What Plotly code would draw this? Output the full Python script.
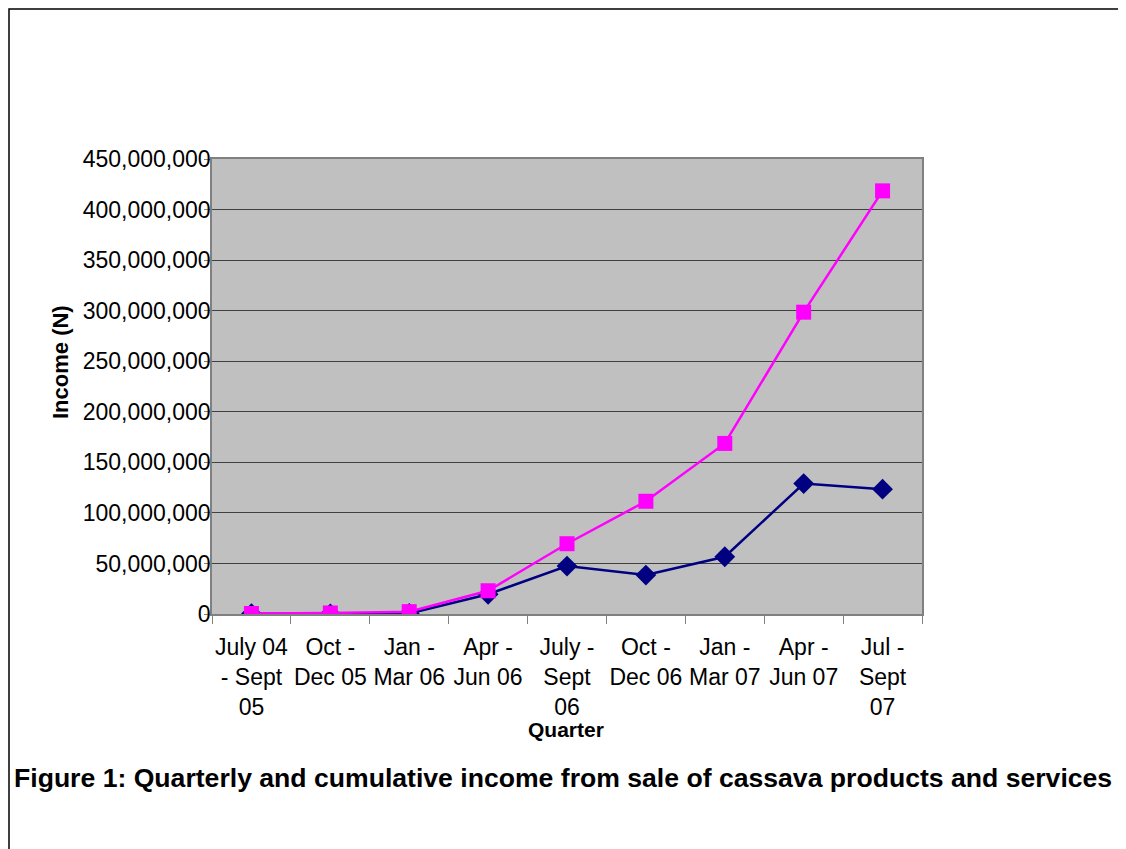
import plotly.graph_objects as go

quarters = ["July 04<br>- Sept<br>05", "Oct -<br>Dec 05", "Jan -<br>Mar 06", "Apr -<br>Jun 06",
            "July -<br>Sept<br>06", "Oct -<br>Dec 06", "Jan -<br>Mar 07", "Apr -<br>Jun 07",
            "Jul -<br>Sept<br>07"]
quarterly_income = [300000, 200000, 500000, 19500000, 47400000, 38500000, 56600000, 129000000, 123500000]
cumulative_income = [500000, 1000000, 2300000, 23000000, 69500000, 111500000, 168700000, 298500000, 418500000]

OFF = 8  # page body margin
W, H = 1126 - OFF, 849 - OFF
# plot area in page coordinates
PL, PR, PT, PB = 212, 922, 159, 614
L, R, T, B = PL - OFF, PR - OFF, PT - OFF, PB - OFF

FONT = "Liberation Sans, Arial, sans-serif"

fig = go.Figure()
fig.add_trace(go.Scatter(
    x=quarters, y=quarterly_income, mode="lines+markers", name="Quarterly",
    line=dict(color="#000080", width=2.5),
    marker=dict(symbol="diamond", size=16, color="#000080"),
))
fig.add_trace(go.Scatter(
    x=quarters, y=cumulative_income, mode="lines+markers", name="Cumulative",
    line=dict(color="#FF00FF", width=2.5),
    marker=dict(symbol="square", size=15, color="#FF00FF"),
))

def px_x(p):  # page x -> paper
    return (p - OFF - L) / (R - L)

def px_y(p):  # page y -> paper
    return (B - (p - OFF)) / (B - T)

fig.update_layout(
    width=W, height=H,
    margin=dict(l=L, r=W - R, t=T, b=H - B, autoexpand=False),
    paper_bgcolor="white",
    plot_bgcolor="#C0C0C0",
    showlegend=False,
    font=dict(family=FONT, color="black", size=23),
    xaxis=dict(
        type="category", range=[-0.5, 8.5],
        showgrid=False, zeroline=False,
        ticks="outside", tickson="boundaries", ticklen=8, tickcolor="#808080", tickwidth=1,
        showline=True, linecolor="#808080", linewidth=1.5, mirror=True,
        tickfont=dict(family=FONT, size=23, color="black"),
        tickangle=0, ticklabelstandoff=12,
    ),
    yaxis=dict(
        range=[0, 450000000], dtick=50000000, tickformat=",d",
        showgrid=True, gridcolor="#404040", gridwidth=1,
        zeroline=False,
        ticks="outside", ticklen=6, tickcolor="#808080", tickwidth=1,
        showline=True, linecolor="#808080", linewidth=1.5, mirror=True,
        tickfont=dict(family=FONT, size=23, color="black"),
        ticklabelstandoff=-11,
    ),
    annotations=[
        dict(text="<b>Quarter</b>", x=px_x(566), y=px_y(729), xref="paper", yref="paper",
             showarrow=False, xanchor="center", yanchor="middle",
             font=dict(family=FONT, size=21, color="black")),
        dict(text="<b>Income (N)</b>", x=px_x(60), y=px_y(362), xref="paper", yref="paper",
             showarrow=False, xanchor="center", yanchor="middle", textangle=-90,
             font=dict(family=FONT, size=22, color="black")),
        dict(text="<b>Figure 1: Quarterly and cumulative income from sale of cassava products and services</b>",
             x=px_x(12), y=px_y(778), xref="paper", yref="paper",
             showarrow=False, xanchor="left", yanchor="middle",
             font=dict(family=FONT, size=26.6, color="black")),
    ],
    shapes=[
        dict(type="rect", xref="paper", yref="paper",
             x0=px_x(OFF + 1), x1=px_x(1124), y0=px_y(900), y1=px_y(OFF + 1),
             line=dict(color="black", width=1.5), fillcolor="rgba(0,0,0,0)", layer="above"),
    ],
)

fig.write_html("out.html")
